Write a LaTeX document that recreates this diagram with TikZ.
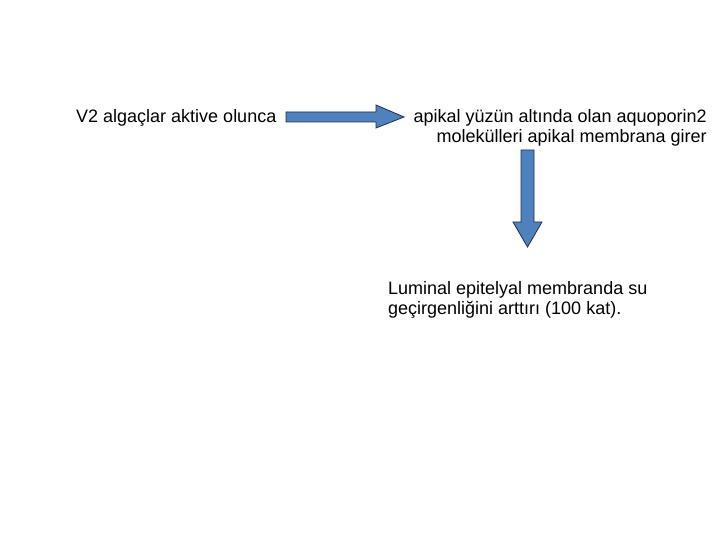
\documentclass[tikz,border=0pt]{standalone}
\usepackage{fontspec}
\setmainfont{Liberation Sans}
\definecolor{blockblue}{HTML}{4F81BD}
\definecolor{blockedge}{HTML}{1F2F4F}
\tikzset{
  lbl/.style={inner sep=0pt, font=\fontsize{18}{20}\selectfont},
  blockarrow/.style={fill=blockblue, draw=blockedge, line width=0.8pt, line join=miter}
}
\begin{document}
\begin{tikzpicture}[x=1pt,y=-1pt]
\useasboundingbox (0,0) rectangle (720,540);
\node[lbl, anchor=base west] (a) at (76,123) {V2 algaçlar aktive olunca};
\node[lbl, anchor=base east, align=right] (b1) at (707,123) {apikal yüzün altında olan aquoporin2};
\node[lbl, anchor=base east, align=right] (b2) at (707,143) {molekülleri apikal membrana girer};
\node[lbl, anchor=base west] (c1) at (388,294) {Luminal epitelyal membranda su};
\node[lbl, anchor=base west] (c2) at (388,314) {geçirgenliğini arttırı (100 kat).};
% right block arrow
\draw[blockarrow] (286,112) -- (376,112) -- (376,105) -- (404,117) -- (376,128) -- (376,122) -- (286,122) -- cycle;
% down block arrow
\draw[blockarrow] (521,150) -- (534,150) -- (534,222) -- (542,222) -- (527.5,247) -- (513,222) -- (521,222) -- cycle;
\end{tikzpicture}
\end{document}
